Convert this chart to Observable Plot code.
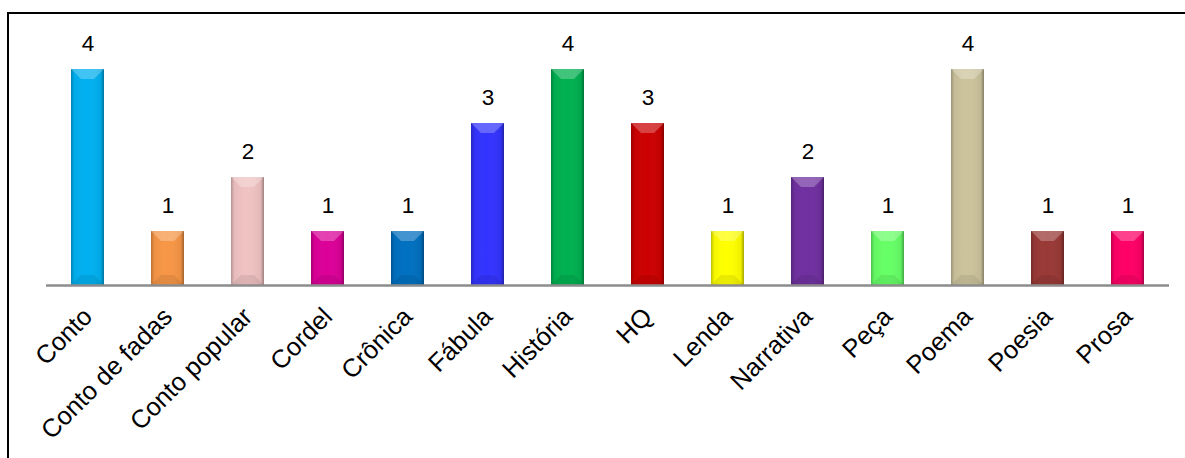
<!DOCTYPE html>
<html>
<head>
<meta charset="utf-8">
<script src="https://cdn.jsdelivr.net/npm/d3@7"></script>
<script src="https://cdn.jsdelivr.net/npm/@observablehq/plot@0.6"></script>
<style>
  html, body { margin: 0; padding: 0; background: #fff; }
  #wrap { position: relative; width: 1185px; height: 458px; overflow: hidden; }
  #frame { position: absolute; left: 7px; top: 12px; width: 1300px; height: 600px;
           border-top: 2px solid #000; border-left: 2px solid #000; box-sizing: border-box; }
  #chart { position: absolute; left: 0; top: 0; width: 1185px; }
  #chart svg { display: block; font-family: "Liberation Sans", Arial, sans-serif; }
</style>
</head>
<body>
<div id="wrap"><div id="frame"></div><div id="chart"></div></div>
<script>
// Gêneros textuais e quantidade de ocorrências
const categories = ["Conto", "Conto de fadas", "Conto popular", "Cordel", "Crônica", "Fábula",
  "História", "HQ", "Lenda", "Narrativa", "Peça", "Poema", "Poesia", "Prosa"];
const counts = [4, 1, 2, 1, 1, 3, 4, 3, 1, 2, 1, 4, 1, 1];
const colors = ["#00B0F0", "#F79646", "#F0C2C2", "#DC0098", "#0070C0", "#3333FF",
  "#00B050", "#CC0000", "#FFFF00", "#7030A0", "#66FF66", "#CCC39C", "#993936", "#FF0066"];

const data = categories.map((c, i) => ({genero: c, n: counts[i], cor: colors[i]}));

// Bevel overlay: light top facet and darker bottom facet on each bar rect
function bevel(index, scales, values, dims, ctx, next) {
  const g = next(index, scales, values, dims, ctx);
  const rects = Array.from(g.querySelectorAll("rect"));
  const ns = "http://www.w3.org/2000/svg";
  for (const r of rects) {
    const x = +r.getAttribute("x"), y = +r.getAttribute("y");
    const w = +r.getAttribute("width"), h = +r.getAttribute("height");
    const b = 10;
    const top = document.createElementNS(ns, "polygon");
    top.setAttribute("points", `${x},${y} ${x + w},${y} ${x + w - b},${y + b} ${x + b},${y + b}`);
    top.setAttribute("fill", "#fff");
    top.setAttribute("fill-opacity", "0.25");
    const bot = document.createElementNS(ns, "polygon");
    bot.setAttribute("points", `${x},${y + h} ${x + w},${y + h} ${x + w - b},${y + h - b} ${x + b},${y + h - b}`);
    bot.setAttribute("fill", "#000");
    bot.setAttribute("fill-opacity", "0.08");
    g.appendChild(top);
    g.appendChild(bot);
  }
  return g;
}

const chart = Plot.plot({
  width: 1185,
  height: 458,
  marginTop: 15,
  marginBottom: 173,
  marginLeft: 46,
  marginRight: 16,
  style: {fontFamily: "'Liberation Sans', Arial, sans-serif", background: "transparent"},
  x: {domain: categories, paddingInner: 0.59, paddingOuter: 0.293, label: null},
  y: {domain: [0, 5], axis: null},
  marks: [
    Plot.barY(data, {
      x: "genero", y: "n", fill: "cor",
      style: {filter: "drop-shadow(2px 2px 2px rgba(0,0,0,0.28))"}
    }),
    Plot.barY(data, {x: "genero", y: "n", fill: "url(#shadeH)", render: bevel}),
    Plot.ruleY([0], {stroke: "#8c8c8c", strokeWidth: 2.5}),
    Plot.text(data, {x: "genero", y: "n", text: d => String(d.n), dy: -26, fontSize: 22.5, fill: "#000"}),
    Plot.axisX({tickRotate: -45, tickSize: 0, tickPadding: 27, fontSize: 25.5, fill: "#000", label: null})
  ]
});

// horizontal shading gradient giving the bars a rounded look
const defs = d3.create("svg:defs");
const grad = defs.append("linearGradient").attr("id", "shadeH").attr("x1", 0).attr("x2", 1).attr("y1", 0).attr("y2", 0);
[[0, "#000", 0.25], [0.1, "#000", 0.04], [0.5, "#fff", 0.0], [0.9, "#000", 0.06], [1, "#000", 0.35]]
  .forEach(([o, c, a]) => grad.append("stop").attr("offset", o).attr("stop-color", c).attr("stop-opacity", a));
chart.insertBefore(defs.node(), chart.firstChild);

document.getElementById("chart").appendChild(chart);
</script>
</body>
</html>
